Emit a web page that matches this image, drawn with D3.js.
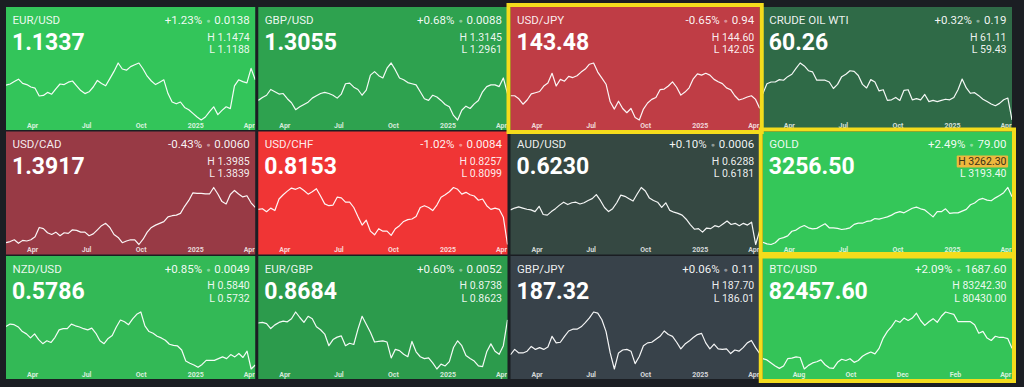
<!DOCTYPE html>
<html>
<head>
<meta charset="utf-8">
<script src="https://cdn.jsdelivr.net/npm/d3@7"></script>
<style>
  body { margin: 0; background: #1b1e23; }
  svg { display: block; }
  .title { font: 400 11.5px Roboto, sans-serif; fill: rgba(255,255,255,0.92); }
  .change { font: 400 11.5px Roboto, sans-serif; fill: rgba(255,255,255,0.95); }
  .price { font: 700 23px Roboto, sans-serif; fill: #fff; }
  .hl { font: 400 10.5px Roboto, sans-serif; fill: rgba(255,255,255,0.92); }
  .axis text { font: 700 7px Roboto, sans-serif; fill: rgba(255,255,255,0.8); }
</style>
</head>
<body>
<script>
// tile texts
var symbols = ['EUR/USD', 'GBP/USD', 'USD/JPY', 'CRUDE OIL WTI', 'USD/CAD', 'USD/CHF',
  'AUD/USD', 'GOLD', 'NZD/USD', 'EUR/GBP', 'GBP/JPY', 'BTC/USD'];
var prices = ['1.1337', '1.3055', '143.48', '60.26', '1.3917', '0.8153',
  '0.6230', '3256.50', '0.5786', '0.8684', '187.32', '82457.60'];
var changePct = ['+1.23%', '+0.68%', '-0.65%', '+0.32%', '-0.43%', '-1.02%',
  '+0.10%', '+2.49%', '+0.85%', '+0.60%', '+0.06%', '+2.09%'];
var changeAbs = ['0.0138', '0.0088', '0.94', '0.19', '0.0060', '0.0084',
  '0.0006', '79.00', '0.0049', '0.0052', '0.11', '1687.60'];
var highs = ['1.1474', '1.3145', '144.60', '61.11', '1.3985', '0.8257',
  '0.6288', '3262.30', '0.5840', '0.8738', '187.70', '83242.30'];
var lows = ['1.1188', '1.2961', '142.05', '59.43', '1.3839', '0.8099',
  '0.6181', '3193.40', '0.5732', '0.8623', '186.01', '80430.00'];
var watched = ['USD/JPY', 'GOLD', 'BTC/USD'];
var newHigh = ['GOLD'];

// price history, evenly spaced over each tile's period
var eurusd = [1.081,1.083,1.087,1.091,1.084,1.082,1.078,1.076,1.063,1.064,1.069,1.066,1.075,1.083,1.082,1.086,1.088,1.080,1.072,1.067,1.070,1.078,1.089,1.084,1.080,1.092,1.104,1.118,1.108,1.106,1.112,1.115,1.118,1.108,1.096,1.088,1.082,1.086,1.090,1.067,1.053,1.050,1.053,1.044,1.040,1.034,1.028,1.023,1.028,1.037,1.045,1.032,1.039,1.045,1.042,1.080,1.090,1.087,1.085,1.109,1.090];
var gbpusd = [1.265,1.270,1.274,1.284,1.280,1.276,1.277,1.268,1.261,1.249,1.254,1.258,1.262,1.269,1.273,1.277,1.279,1.277,1.274,1.269,1.276,1.294,1.295,1.288,1.284,1.274,1.283,1.309,1.315,1.308,1.304,1.321,1.330,1.318,1.304,1.301,1.296,1.294,1.292,1.280,1.268,1.265,1.274,1.271,1.265,1.258,1.254,1.239,1.231,1.248,1.255,1.251,1.259,1.265,1.280,1.289,1.292,1.292,1.289,1.304,1.277];
var usdjpy = [149.0,149.0,148.0,146.2,147.6,149.6,150.0,150.4,152.2,153.2,156.4,152.2,154.4,153.8,155.4,155.0,155.6,156.8,157.8,159.4,159.8,156.8,154.8,152.8,147.0,144.6,147.2,144.8,143.4,144.8,141.8,141.0,144.6,146.6,147.8,148.4,151.0,151.2,152.2,153.6,151.8,149.2,150.2,151.6,154.6,156.2,155.8,156.4,155.8,154.4,153.6,153.0,151.6,151.0,149.0,147.6,148.0,148.6,149.0,147.8,144.8];
var crude = [71.1,76.2,77.1,77.1,78.3,78.0,79.8,81.0,84.0,86.7,85.2,82.8,82.2,78.0,78.0,78.0,77.1,73.8,75.9,79.8,81.0,82.8,82.5,80.4,75.9,74.1,78.3,77.1,72.6,73.2,67.8,68.1,69.3,67.8,72.9,73.2,68.1,68.7,68.1,70.8,67.2,67.8,67.2,67.8,68.4,68.1,69.3,73.2,78.6,74.1,71.4,71.7,70.2,68.4,67.2,66.0,65.1,66.3,68.1,69.0,57.9];
var usdcad = [1.344,1.346,1.349,1.343,1.348,1.347,1.349,1.354,1.370,1.368,1.361,1.358,1.362,1.356,1.361,1.360,1.366,1.365,1.362,1.362,1.356,1.359,1.366,1.373,1.377,1.370,1.358,1.353,1.344,1.347,1.349,1.349,1.341,1.350,1.362,1.370,1.374,1.377,1.380,1.388,1.390,1.391,1.394,1.406,1.416,1.429,1.428,1.428,1.427,1.427,1.438,1.427,1.414,1.410,1.426,1.433,1.427,1.422,1.424,1.412,1.404];
var usdchf = [0.901,0.902,0.897,0.903,0.899,0.918,0.925,0.931,0.936,0.934,0.937,0.932,0.926,0.930,0.935,0.923,0.910,0.907,0.908,0.921,0.920,0.913,0.913,0.904,0.889,0.875,0.883,0.865,0.859,0.869,0.865,0.865,0.858,0.869,0.874,0.881,0.884,0.885,0.889,0.904,0.907,0.904,0.899,0.908,0.921,0.925,0.930,0.937,0.934,0.926,0.929,0.925,0.923,0.916,0.918,0.907,0.901,0.903,0.901,0.888,0.843];
var audusd = [0.661,0.664,0.666,0.664,0.662,0.661,0.658,0.667,0.653,0.652,0.658,0.663,0.669,0.674,0.670,0.673,0.674,0.671,0.673,0.677,0.680,0.687,0.677,0.665,0.658,0.663,0.673,0.686,0.684,0.680,0.676,0.688,0.699,0.693,0.681,0.677,0.674,0.665,0.673,0.660,0.657,0.655,0.652,0.645,0.636,0.628,0.629,0.623,0.630,0.629,0.634,0.632,0.637,0.642,0.636,0.638,0.634,0.638,0.635,0.640,0.602,0.626];
var gold = [2205,2172,2161,2194,2271,2293,2326,2414,2436,2491,2524,2480,2458,2469,2513,2557,2480,2480,2469,2447,2458,2480,2546,2568,2568,2601,2612,2656,2645,2667,2689,2722,2766,2788,2766,2810,2854,2876,2843,2821,2755,2689,2788,2788,2843,2755,2766,2766,2799,2832,2920,2953,3019,3041,3008,2997,3052,3096,3151,3250,3074];
var nzdusd = [0.620,0.624,0.623,0.619,0.611,0.607,0.600,0.607,0.597,0.590,0.595,0.592,0.601,0.614,0.616,0.616,0.624,0.621,0.619,0.616,0.614,0.617,0.608,0.595,0.590,0.599,0.604,0.619,0.631,0.628,0.623,0.633,0.641,0.645,0.621,0.611,0.608,0.603,0.600,0.596,0.589,0.587,0.586,0.579,0.560,0.556,0.553,0.549,0.554,0.561,0.561,0.561,0.564,0.567,0.564,0.571,0.567,0.573,0.566,0.577,0.546,0.553];
var eurgbp = [0.8650,0.8655,0.8645,0.8605,0.8635,0.8655,0.8665,0.8660,0.8685,0.8740,0.8695,0.8655,0.8705,0.8685,0.8620,0.8595,0.8560,0.8465,0.8515,0.8535,0.8545,0.8465,0.8485,0.8475,0.8600,0.8705,0.8640,0.8575,0.8495,0.8500,0.8505,0.8495,0.8365,0.8435,0.8425,0.8395,0.8375,0.8500,0.8415,0.8375,0.8360,0.8365,0.8325,0.8275,0.8315,0.8300,0.8335,0.8450,0.8505,0.8465,0.8385,0.8360,0.8340,0.8300,0.8295,0.8415,0.8480,0.8420,0.8395,0.8465,0.8675];
var gbpjpy = [187.5,190.2,188.4,188.4,189.3,191.7,190.2,191.1,190.2,191.4,196.8,193.5,193.8,196.8,199.5,200.4,200.4,201.6,203.7,206.1,209.1,208.5,205.2,199.2,188.4,180.3,188.4,189.9,190.2,189.3,183.0,186.6,192.0,193.5,193.8,195.3,196.8,199.5,197.7,196.8,193.8,190.5,192.9,194.4,196.2,197.7,198.3,193.5,190.5,192.9,190.5,190.2,190.5,188.1,189.9,189.3,191.1,193.5,194.7,191.1,188.1];
var btcusd = [63500,62500,60000,57500,55500,57500,63500,64000,65000,64500,55000,58000,60000,61000,62500,58500,56000,55500,60500,63000,62000,63500,60500,62000,65500,67500,69000,67500,72000,80500,86000,90000,95000,93500,97000,95000,97000,101000,95000,91000,94000,96500,93500,98500,102000,101000,100000,94000,94000,94000,94000,91500,84500,86000,80500,78500,82000,81000,81000,80000,72000];

var histories = [eurusd, gbpusd, usdjpy, crude, usdcad, usdchf,
  audusd, gold, nzdusd, eurgbp, gbpjpy, btcusd];

// periods shown
var mainPeriod = [new Date(2024, 1, 17), new Date(2025, 3, 12)];
var btcPeriod = [new Date(2024, 5, 20), new Date(2025, 3, 9)];
var mainTicks = [new Date(2024, 3, 1), new Date(2024, 6, 1), new Date(2024, 9, 1),
  new Date(2025, 0, 1), new Date(2025, 3, 1)];
var btcTicks = [new Date(2024, 7, 1), new Date(2024, 9, 1), new Date(2024, 11, 1),
  new Date(2025, 1, 1), new Date(2025, 3, 1)];

var tileColors = ['#33c55a', '#2ea24f', '#bf3d45', '#2f6a47', '#983a45', '#f03535',
  '#354842', '#34c759', '#33b956', '#2c9b4c', '#38424a', '#34c458'];

var svg = d3
	.select('body')
	.append('svg')
	.attr('width', 1024)
	.attr('height', 387);

svg.append('rect').attr('width', 1024).attr('height', 387).attr('fill', '#1b1e23');

var cols = d3.scaleBand().domain(d3.range(4)).range([6, 1012]).paddingInner(0.012);
var rows = d3.scaleBand().domain(d3.range(3)).range([7, 379]).paddingInner(0.012);
var w = cols.bandwidth();
var h = rows.bandwidth();

var fmtTick = function(d) {
	return d.getMonth() === 0 ? d3.timeFormat('%Y')(d) : d3.timeFormat('%b')(d);
};

var tiles = svg
	.selectAll('g.tile')
	.data(symbols)
	.enter()
	.append('g')
	.attr('class', 'tile')
	.attr('transform', function(d, i) {
		return 'translate(' + cols(i % 4) + ',' + rows(Math.floor(i / 4)) + ')';
	});

tiles.each(function(name, i) {
	var g = d3.select(this);
	var values = histories[i];
	var period = name === 'BTC/USD' ? btcPeriod : mainPeriod;
	var ticks = name === 'BTC/USD' ? btcTicks : mainTicks;

	g.append('clipPath')
		.attr('id', 'clip' + i)
		.append('rect')
		.attr('width', w)
		.attr('height', h);

	g.append('rect')
		.attr('width', w)
		.attr('height', h)
		.attr('fill', tileColors[i]);

	var inner = g.append('g').attr('clip-path', 'url(#clip' + i + ')');

	var x = d3.scaleTime().domain(period).range([0, w]);
	var y = d3.scaleLinear().domain(d3.extent(values)).range([113, 56]);
	var step = (period[1] - period[0]) / (values.length - 1);

	var line = d3
		.line()
		.x(function(d, k) {
			return x(new Date(+period[0] + k * step));
		})
		.y(function(d) {
			return y(d);
		});

	inner
		.append('path')
		.datum(values)
		.attr('d', line)
		.attr('fill', 'none')
		.attr('stroke', '#fff')
		.attr('stroke-opacity', 0.95)
		.attr('stroke-width', 1.2)
		.attr('stroke-linejoin', 'round');

	var axis = inner
		.append('g')
		.attr('class', 'axis')
		.attr('transform', 'translate(0,114)')
		.call(d3.axisBottom(x).tickValues(ticks).tickFormat(fmtTick).tickSize(0).tickPadding(2));
	axis.select('.domain').remove();

	g.append('text')
		.attr('class', 'title')
		.attr('x', 6.5)
		.attr('y', 17)
		.text(name);

	var change = g
		.append('text')
		.attr('class', 'change')
		.attr('x', w - 5.5)
		.attr('y', 17)
		.attr('text-anchor', 'end');
	change.append('tspan').text(changePct[i]);
	change
		.append('tspan')
		.attr('dx', 4)
		.attr('dy', -1)
		.style('font-size', '7px')
		.style('fill', 'rgba(255,255,255,0.45)')
		.text('\u25CF');
	change
		.append('tspan')
		.attr('dx', 4)
		.attr('dy', 1)
		.text(changeAbs[i]);

	g.append('text')
		.attr('class', 'price')
		.attr('x', 6)
		.attr('y', 43)
		.text(prices[i]);

	var hi = g
		.append('text')
		.attr('class', 'hl')
		.attr('x', w - 5.5)
		.attr('y', 33.5)
		.attr('text-anchor', 'end')
		.text('H ' + highs[i]);

	if (newHigh.indexOf(name) >= 0) {
		var bb = hi.node().getBBox();
		g.insert('rect', 'text.hl')
			.attr('x', bb.x - 1.5)
			.attr('y', bb.y + 0.5)
			.attr('width', bb.width + 3)
			.attr('height', bb.height - 1)
			.attr('rx', 1)
			.attr('fill', '#eeb83e');
		hi.style('fill', '#3a3216');
	}

	g.append('text')
		.attr('class', 'hl')
		.attr('x', w - 5.5)
		.attr('y', 46)
		.attr('text-anchor', 'end')
		.text('L ' + lows[i]);
});

// yellow frames on watched instruments
svg
	.append('g')
	.selectAll('rect')
	.data(watched)
	.enter()
	.append('rect')
	.attr('x', function(d) {
		return cols(symbols.indexOf(d) % 4) - 2;
	})
	.attr('y', function(d) {
		return rows(Math.floor(symbols.indexOf(d) / 4)) - 2;
	})
	.attr('width', w + 4)
	.attr('height', h + 4)
	.attr('fill', 'none')
	.attr('stroke', '#f4dc1c')
	.attr('stroke-width', 4);
</script>
</body>
</html>
